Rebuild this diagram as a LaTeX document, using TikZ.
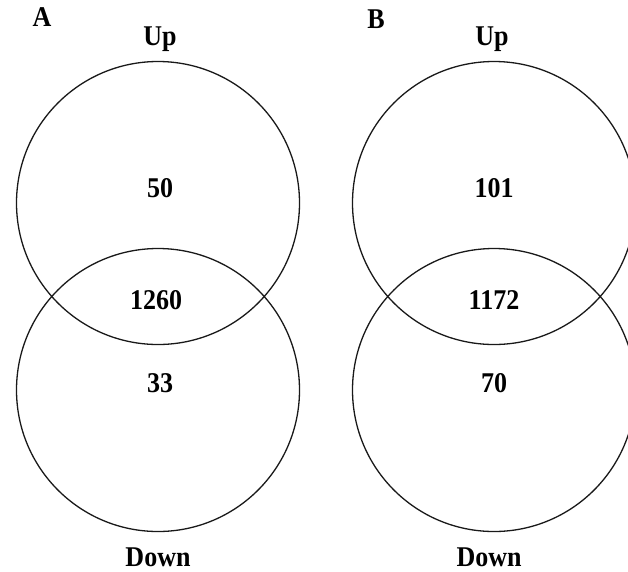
\documentclass[tikz,border=0pt]{standalone}
\usepackage{fontspec}
\setmainfont{Liberation Serif}
\begin{document}
\begin{tikzpicture}[x=1pt,y=-1pt,
  venn/.style={circle,draw=black!90,line width=1.3pt,minimum size=283pt,inner sep=0pt},
  lbl/.style={anchor=base,inner sep=0pt,font=\fontsize{26}{26}\selectfont\bfseries}]
\useasboundingbox (0,0) rectangle (628,571);
\clip (0,0) rectangle (628,571);
% panel A
\node[venn] (AUp) at (158,203) {};
\node[venn] (ADown) at (158,390) {};
\node[lbl] (Alab) at (42,26) {\scalebox{1}[1.1]{A}};
\node[lbl] (AUpT) at (160,45) {\scalebox{1}[1.1]{Up}};
\node[lbl] (ADownT) at (158,566) {\scalebox{1}[1.1]{Down}};
\node[lbl] (A50) at (160,197) {\scalebox{1}[1.1]{50}};
\node[lbl] (A1260) at (156,309) {\scalebox{1}[1.1]{1260}};
\node[lbl] (A33) at (160,392) {\scalebox{1}[1.1]{33}};
% panel B
\node[venn] (BUp) at (494,203) {};
\node[venn] (BDown) at (494,390) {};
\node[lbl] (Blab) at (376,28) {\scalebox{1}[1.1]{B}};
\node[lbl] (BUpT) at (492,45) {\scalebox{1}[1.1]{Up}};
\node[lbl] (BDownT) at (489,566) {\scalebox{1}[1.1]{Down}};
\node[lbl] (B101) at (494,197) {\scalebox{1}[1.1]{101}};
\node[lbl] (B1172) at (494,309) {\scalebox{1}[1.1]{1172}};
\node[lbl] (B70) at (494,392) {\scalebox{1}[1.1]{70}};
\end{tikzpicture}
\end{document}
